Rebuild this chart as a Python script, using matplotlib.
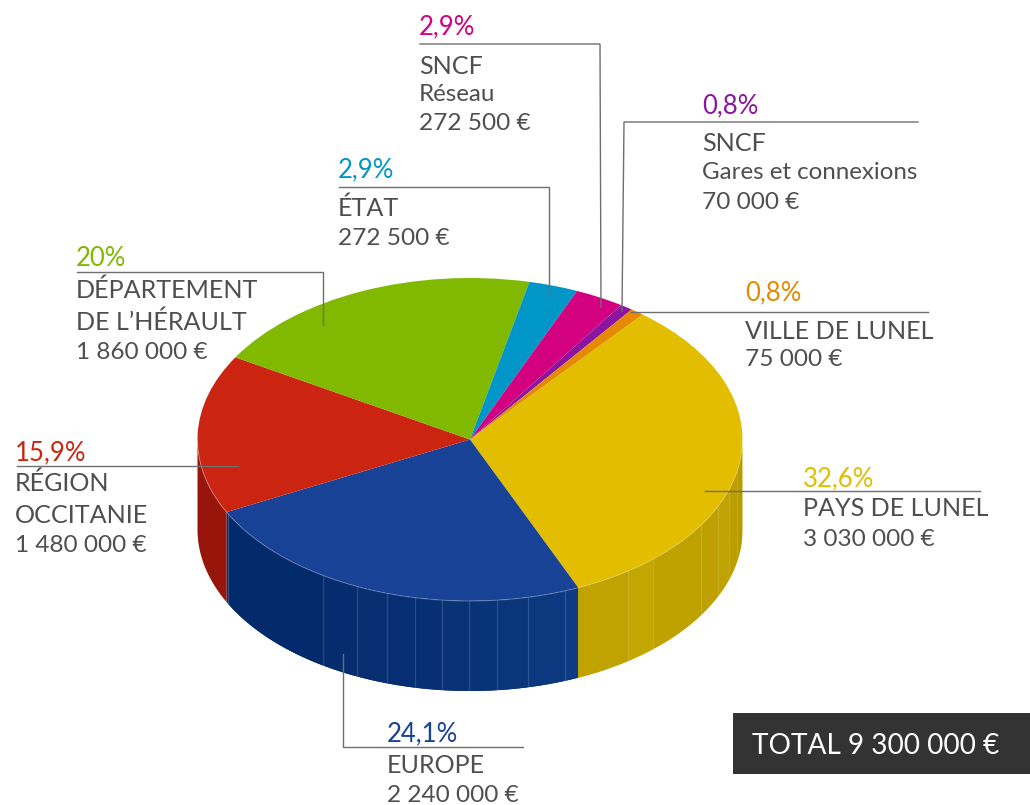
import numpy as np
import matplotlib
matplotlib.use('Agg')
import matplotlib.pyplot as plt
from matplotlib.transforms import Affine2D

plt.rcParams['font.family'] = ['Lato', 'DejaVu Sans']

# Values, clockwise from the yellow slice
values = [3030000, 2240000, 1480000, 1860000, 272500, 272500, 70000, 75000]
percents = ['32,6%', '24,1%', '15,9%', '20%', '2,9%', '2,9%', '0,8%', '0,8%']
amounts = ['3 030 000 €', '2 240 000 €', '1 480 000 €', '1 860 000 €',
           '272 500 €', '272 500 €', '70 000 €', '75 000 €']
names = ['PAYS DE LUNEL', 'EUROPE', 'RÉGION\nOCCITANIE', 'DÉPARTEMENT\nDE L’HÉRAULT',
         'ÉTAT', 'SNCF', 'SNCF', 'VILLE DE LUNEL']
subnames = [None, None, None, None, None, 'Réseau', 'Gares et connexions', None]
colors = ['#e2bd00', '#184296', '#cb2411', '#80b900', '#0096c8', '#d3007f', '#8b15a0', '#e58a00']
wall_colors = ['#c0a200', '#052c6e', '#97150a', '#80b900', '#0096c8', '#d3007f', '#8b15a0', '#e58a00']
total_label = 'TOTAL 9 300 000 €'

# Pie geometry in pixels
cx, cy, rx, ry, depth = 470, 439.5, 272.5, 161.5, 90
start_angle = 50.7

# x positions of the faint seams on the front wall
blue_seams = [323, 357, 387, 415, 442, 469, 497, 528, 565]
yellow_seams = [628, 653, 701, 718, 729, 737]

fig = plt.figure(figsize=(10.30, 8.05), dpi=100)
ax = fig.add_axes([0, 0, 1, 1])

wedges, _ = ax.pie(values, colors=colors, startangle=start_angle, counterclock=False,
                   wedgeprops={'linewidth': 0})
to_px = Affine2D().scale(rx, -ry).translate(cx, cy) + ax.transData
for w in wedges:
    w.set_transform(to_px)
    w.set_zorder(3)

ax.set_aspect('auto')
ax.set_xlim(0, 1030)
ax.set_ylim(805, 0)
ax.set_axis_off()

# Walls: only the part of each slice that faces the viewer
shares = np.array(values) / sum(values) * 360
ends = start_angle - np.cumsum(shares)
starts = ends + shares
for a0, a1, col, share in zip(starts, ends, wall_colors, shares):
    hi = min(a0, 0) if a0 < 180 else a0
    lo = max(a1, -180)
    if hi <= lo:
        continue
    t = np.radians(np.linspace(hi, lo, 80))
    x = cx + rx * np.cos(t)
    y = cy - ry * np.sin(t)
    ax.fill(np.r_[x, x[::-1]], np.r_[y, y[::-1] + depth], color=col, lw=0, zorder=1)

# Blue wall gets a little lighter to the right
blue_edges = [228] + blue_seams + [578]
blue_shades = ['#032a6b', '#052c6e', '#062e71', '#062f73', '#073074', '#083176',
               '#093378', '#0a357b', '#0c387f', '#0e3a83']
yellow_edges = [578] + yellow_seams + [742]
yellow_shades = ['#c0a200', '#c4a600', '#bfa100', '#bea000', '#c0a200', '#bb9e00', '#b89b00']


def front_y(px):
    px = np.asarray(px, dtype=float)
    return cy + ry * np.sqrt(np.clip(1 - ((px - cx) / rx) ** 2, 0, 1))


for edges, shades in [(blue_edges, blue_shades), (yellow_edges, yellow_shades)]:
    for x0, x1, shade in zip(edges[:-1], edges[1:], shades):
        xs = np.linspace(x0, x1, 30)
        ys = front_y(xs)
        ax.fill(np.r_[xs, xs[::-1]], np.r_[ys, ys[::-1] + depth], color=shade, lw=0, zorder=1.5)

for sx in blue_seams + yellow_seams:
    top = front_y(sx)
    ax.plot([sx, sx], [top, top + depth], color='white', alpha=0.14, lw=0.9, zorder=2)

# Thin light rim where the wall meets the face
t = np.radians(np.linspace(0, -180, 200))
ax.plot(cx + rx * np.cos(t), cy - ry * np.sin(t), color='white', alpha=0.25, lw=0.8, zorder=4)
ax.plot([228, 228], [front_y(228), front_y(228) + depth], color='white', alpha=0.2, lw=0.8, zorder=2)

# Leader lines
leaders = [
    ([980, 705], [491, 491]),
    ([523, 343, 343], [747, 747, 654]),
    ([17, 238], [466, 466]),
    ([77, 323, 323], [272, 272, 325]),
    ([339, 549, 549], [187, 187, 297]),
    ([420, 600, 601], [44, 44, 307]),
    ([918, 624, 622], [122, 122, 311]),
    ([928, 631], [312, 312]),
]
for lx, ly in leaders:
    ax.plot(lx, ly, color='#6e6e6e', lw=1.0, zorder=5, solid_joinstyle='miter')

# Text anchor (left x, percent baseline) and baselines of the lines below
anchors = [
    (803, 486, [516, 546]),
    (387, 741, [773, 802]),
    (15, 460, [491, 523, 552]),
    (76, 266, [298, 330, 359]),
    (338, 177, [216, 245]),
    (419, 34, [74, 101, 130]),
    (702, 113, [151, 179, 209]),
    (745, 300, [339, 366]),
]
text_col = '#4f4f4f'
for i, (tx, ty, lines) in enumerate(anchors):
    ax.text(tx, ty, percents[i], color=colors[i], fontsize=18.5, va='baseline', ha='left', zorder=6)
    parts = names[i].split('\n')
    rows = [(p, 18.1) for p in parts]
    if subnames[i]:
        rows.append((subnames[i], 17.4))
    rows.append((amounts[i], 17.6))
    for (s, fs), by in zip(rows, lines):
        ax.text(tx, by, s, color=text_col, fontsize=fs, va='baseline', ha='left', zorder=6)

# Total box
ax.fill([733, 1030, 1030, 733], [713, 713, 774, 774], color='#333333', lw=0, zorder=5)
ax.text(752, 745.5, total_label, color='white', fontsize=20.2, va='center', ha='left', zorder=6)

fig.savefig('out.png', dpi=100)
